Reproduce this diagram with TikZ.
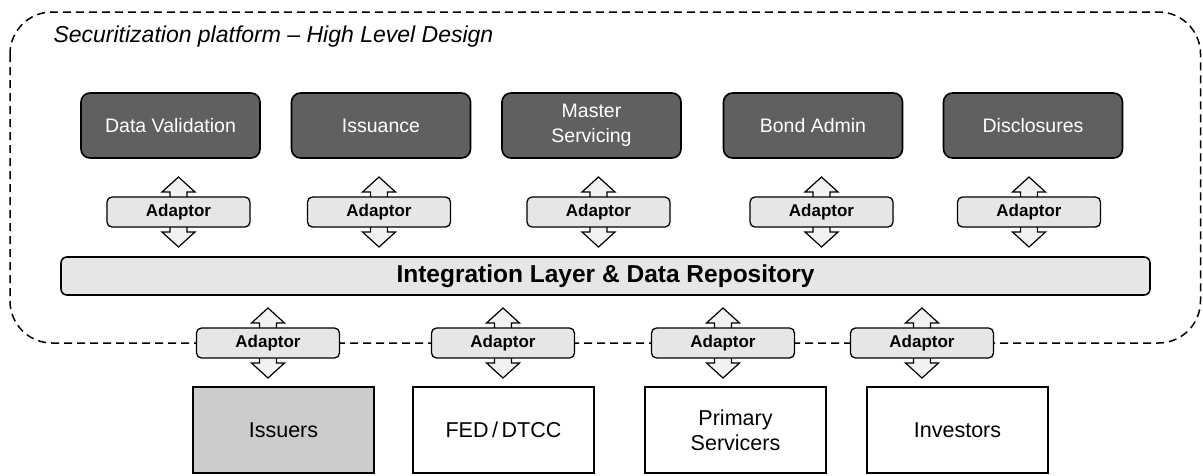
\documentclass[tikz,border=0pt]{standalone}
\usepackage{fontspec}
\setmainfont{Liberation Sans}
\usetikzlibrary{backgrounds}

\definecolor{darkbox}{HTML}{606060}
\definecolor{lightbox}{HTML}{E6E6E6}
\definecolor{arrowfill}{HTML}{F2F2F2}
\definecolor{userbox}{HTML}{CCCCCC}

\tikzset{
  module/.style={draw=black, line width=1.6pt, fill=darkbox, rounded corners=9pt,
    minimum width=179pt, minimum height=65pt, text=white, align=center, inner sep=0pt,
    font=\fontsize{19.5}{25}\selectfont},
  adaptor/.style={draw=black, line width=1.3pt, fill=lightbox, rounded corners=5pt,
    minimum width=143pt, minimum height=30pt, inner sep=0pt,
    font=\bfseries\fontsize{17}{20}\selectfont},
  layer/.style={draw=black, line width=1.6pt, fill=lightbox, rounded corners=6pt,
    minimum width=1089pt, minimum height=38pt, inner sep=0pt,
    font=\bfseries\fontsize{24.5}{28}\selectfont},
  party/.style={draw=black, line width=1.5pt, fill=white, minimum width=181pt,
    minimum height=86pt, align=center, inner sep=0pt,
    font=\fontsize{21.5}{25}\selectfont},
  blockarrow/.style={draw=black, line width=1.2pt, fill=arrowfill, line join=miter},
  boundary/.style={draw=black, dash pattern=on 8pt off 5pt, line width=1.5pt,
    rounded corners=42pt},
}

% vertical two-headed block arrow centred on a node
\newcommand\biarrow[1]{%
  \begin{scope}[shift={(#1)}]
    \draw[blockarrow] (0,-35) -- (16.5,-20) -- (8.5,-20) -- (8.5,20) -- (16.5,20)
      -- (0,35) -- (-16.5,20) -- (-8.5,20) -- (-8.5,-20) -- (-16.5,-20) -- cycle;
  \end{scope}}

\begin{document}
\begin{tikzpicture}[x=1pt, y=-1pt]
  \useasboundingbox (0,0) rectangle (1203,475);

  % title of the platform frame
  \node[anchor=base west, font=\itshape\fontsize{23}{27}\selectfont] (title)
    at (50,42) {Securitization platform – High Level Design};

  % business modules
  \node[module] (m1) at (170.5,125.5) {Data Validation};
  \node[module] (m2) at (381,125.5)   {Issuance};
  \node[module] (m3) at (591.5,125.5) {Master\\Servicing};
  \node[module] (m4) at (813,125.5)   {Bond Admin};
  \node[module] (m5) at (1033,125.5)  {Disclosures};

  % adaptors between modules and integration layer
  \node[adaptor] (a1) at (178.5,212) {Adaptor};
  \node[adaptor] (a2) at (379,212)   {Adaptor};
  \node[adaptor] (a3) at (598.5,212) {Adaptor};
  \node[adaptor] (a4) at (821.5,212) {Adaptor};
  \node[adaptor] (a5) at (1029,212)  {Adaptor};

  % integration layer
  \node[layer] (int) at (605.5,276) {Integration Layer \& Data Repository};

  % external adaptors on the platform edge
  \node[adaptor] (b1) at (268,343) {Adaptor};
  \node[adaptor] (b2) at (503,343) {Adaptor};
  \node[adaptor] (b3) at (723,343) {Adaptor};
  \node[adaptor] (b4) at (922,343) {Adaptor};

  % external parties
  \node[party, fill=userbox] (p1) at (283.5,430) {Issuers};
  \node[party] (p2) at (503.5,430) {FED\,/\,DTCC};
  \node[party] (p3) at (735.5,430) {Primary\\Servicers};
  \node[party] (p4) at (957.5,430) {Investors};

  \begin{scope}[on background layer]
    % platform frame
    \draw[boundary] (10,12) rectangle (1200.5,343);
    % block arrows behind the adaptors
    \foreach \n in {a1,a2,a3,a4,a5,b1,b2,b3,b4} {\biarrow{\n}}
  \end{scope}
\end{tikzpicture}
\end{document}
